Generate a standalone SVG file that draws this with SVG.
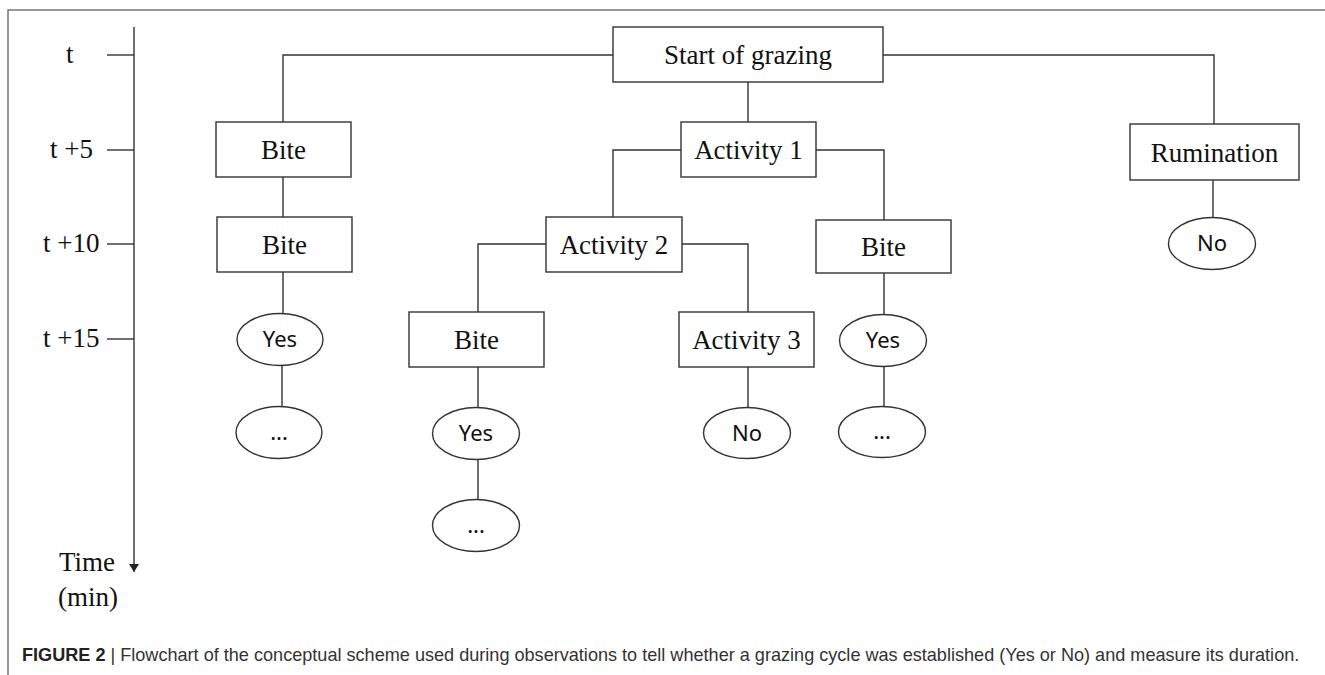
<svg xmlns="http://www.w3.org/2000/svg" width="1325" height="675" viewBox="0 0 1325 675">
<defs>
<style>
.box{fill:#fff;stroke:#333;stroke-width:1.4}
.ell{fill:#fff;stroke:#333;stroke-width:1.4}
.ln{fill:none;stroke:#333;stroke-width:1.4}
.serif{font-family:"Liberation Serif","Times New Roman",serif;font-size:27px;fill:#111}
.sans{font-family:"Noto Sans","Open Sans",sans-serif;font-size:22px;fill:#111}
.cap{font-family:"Liberation Sans",Arial,sans-serif;font-size:18.1px;fill:#333}
</style>
<marker id="arr" viewBox="0 0 8 10" refX="8" refY="5" markerWidth="8" markerHeight="10" markerUnits="userSpaceOnUse" orient="auto">
<path d="M0,0 L8,5 L0,10 Z" fill="#222"/>
</marker>
</defs>
<rect width="1325" height="675" fill="#fff"/>
<g id="frame">
<path d="M1325,10 H8 V675" fill="none" stroke="#777" stroke-width="1.5"/>
</g>
<g id="timeline">
<line x1="134" y1="27" x2="134" y2="572" class="ln" marker-end="url(#arr)"/>
<line x1="107" y1="55" x2="134" y2="55" class="ln"/>
<line x1="107" y1="150" x2="134" y2="150" class="ln"/>
<line x1="107" y1="244" x2="134" y2="244" class="ln"/>
<line x1="107" y1="339" x2="134" y2="339" class="ln"/>
<text x="66" y="63" class="serif">t</text>
<text x="50" y="158" class="serif">t +5</text>
<text x="43" y="252" class="serif">t +10</text>
<text x="43" y="347" class="serif">t +15</text>
<text x="59" y="571" class="serif">Time</text>
<text x="58" y="606" class="serif">(min)</text>
</g>
<g id="connectors">
<path class="ln" d="M613,55 H283 V122"/>
<path class="ln" d="M883,55 H1214 V124"/>
<path class="ln" d="M748,82 V122"/>
<path class="ln" d="M283,177 V217"/>
<path class="ln" d="M283,272 V313"/>
<path class="ln" d="M282,366 V407"/>
<path class="ln" d="M681,150 H613 V217"/>
<path class="ln" d="M816,150 H884 V220"/>
<path class="ln" d="M546,244 H478 V312"/>
<path class="ln" d="M682,244 H748 V312"/>
<path class="ln" d="M478,367 V408"/>
<path class="ln" d="M478,459 V499"/>
<path class="ln" d="M748,367 V408"/>
<path class="ln" d="M884,273 V314"/>
<path class="ln" d="M884,367 V407"/>
<path class="ln" d="M1213,180 V217"/>
</g>
<g id="start">
<rect x="613" y="27" width="270" height="55" class="box"/>
<text x="748" y="64" text-anchor="middle" class="serif">Start of grazing</text>
</g>
<g id="bite1">
<rect x="216" y="122" width="135" height="55" class="box"/>
<text x="283.5" y="159" text-anchor="middle" class="serif">Bite</text>
</g>
<g id="bite2">
<rect x="217" y="217" width="135" height="55" class="box"/>
<text x="284.5" y="254" text-anchor="middle" class="serif">Bite</text>
</g>
<g id="yes1">
<ellipse cx="280" cy="339.5" rx="43" ry="26" class="ell"/>
<text x="280" y="347" text-anchor="middle" class="sans">Yes</text>
</g>
<g id="more1">
<ellipse cx="279" cy="432.5" rx="43" ry="26" class="ell"/>
<text x="279" y="440" text-anchor="middle" class="sans">...</text>
</g>
<g id="activity1">
<rect x="681" y="122" width="135" height="55" class="box"/>
<text x="748.5" y="159" text-anchor="middle" class="serif">Activity 1</text>
</g>
<g id="activity2">
<rect x="546" y="217" width="136" height="55" class="box"/>
<text x="614" y="254" text-anchor="middle" class="serif">Activity 2</text>
</g>
<g id="bite4">
<rect x="409" y="312" width="135" height="55" class="box"/>
<text x="476.5" y="349" text-anchor="middle" class="serif">Bite</text>
</g>
<g id="yes2">
<ellipse cx="476" cy="433.5" rx="43.5" ry="26" class="ell"/>
<text x="476" y="441" text-anchor="middle" class="sans">Yes</text>
</g>
<g id="more2">
<ellipse cx="476" cy="525.5" rx="43.5" ry="26" class="ell"/>
<text x="476" y="533" text-anchor="middle" class="sans">...</text>
</g>
<g id="activity3">
<rect x="679" y="312" width="135" height="55" class="box"/>
<text x="746.5" y="349" text-anchor="middle" class="serif">Activity 3</text>
</g>
<g id="no2">
<ellipse cx="747" cy="433" rx="43.5" ry="25.5" class="ell"/>
<text x="747" y="441" text-anchor="middle" class="sans">No</text>
</g>
<g id="bite3">
<rect x="816" y="220" width="135" height="53" class="box"/>
<text x="883.5" y="256" text-anchor="middle" class="serif">Bite</text>
</g>
<g id="yes3">
<ellipse cx="883" cy="340.5" rx="43.5" ry="26" class="ell"/>
<text x="883" y="348" text-anchor="middle" class="sans">Yes</text>
</g>
<g id="more3">
<ellipse cx="882" cy="432" rx="43.5" ry="25.5" class="ell"/>
<text x="882" y="439" text-anchor="middle" class="sans">...</text>
</g>
<g id="rumination">
<rect x="1130" y="124" width="169" height="56" class="box"/>
<text x="1214.5" y="162" text-anchor="middle" class="serif">Rumination</text>
</g>
<g id="no1">
<ellipse cx="1212" cy="243.5" rx="43.5" ry="26" class="ell"/>
<text x="1212" y="251" text-anchor="middle" class="sans">No</text>
</g>
<g id="caption">
<text x="22" y="661" class="cap"><tspan font-weight="bold" fill="#222">FIGURE 2</tspan> | Flowchart of the conceptual scheme used during observations to tell whether a grazing cycle was established (Yes or No) and measure its duration.</text>
</g>
</svg>
